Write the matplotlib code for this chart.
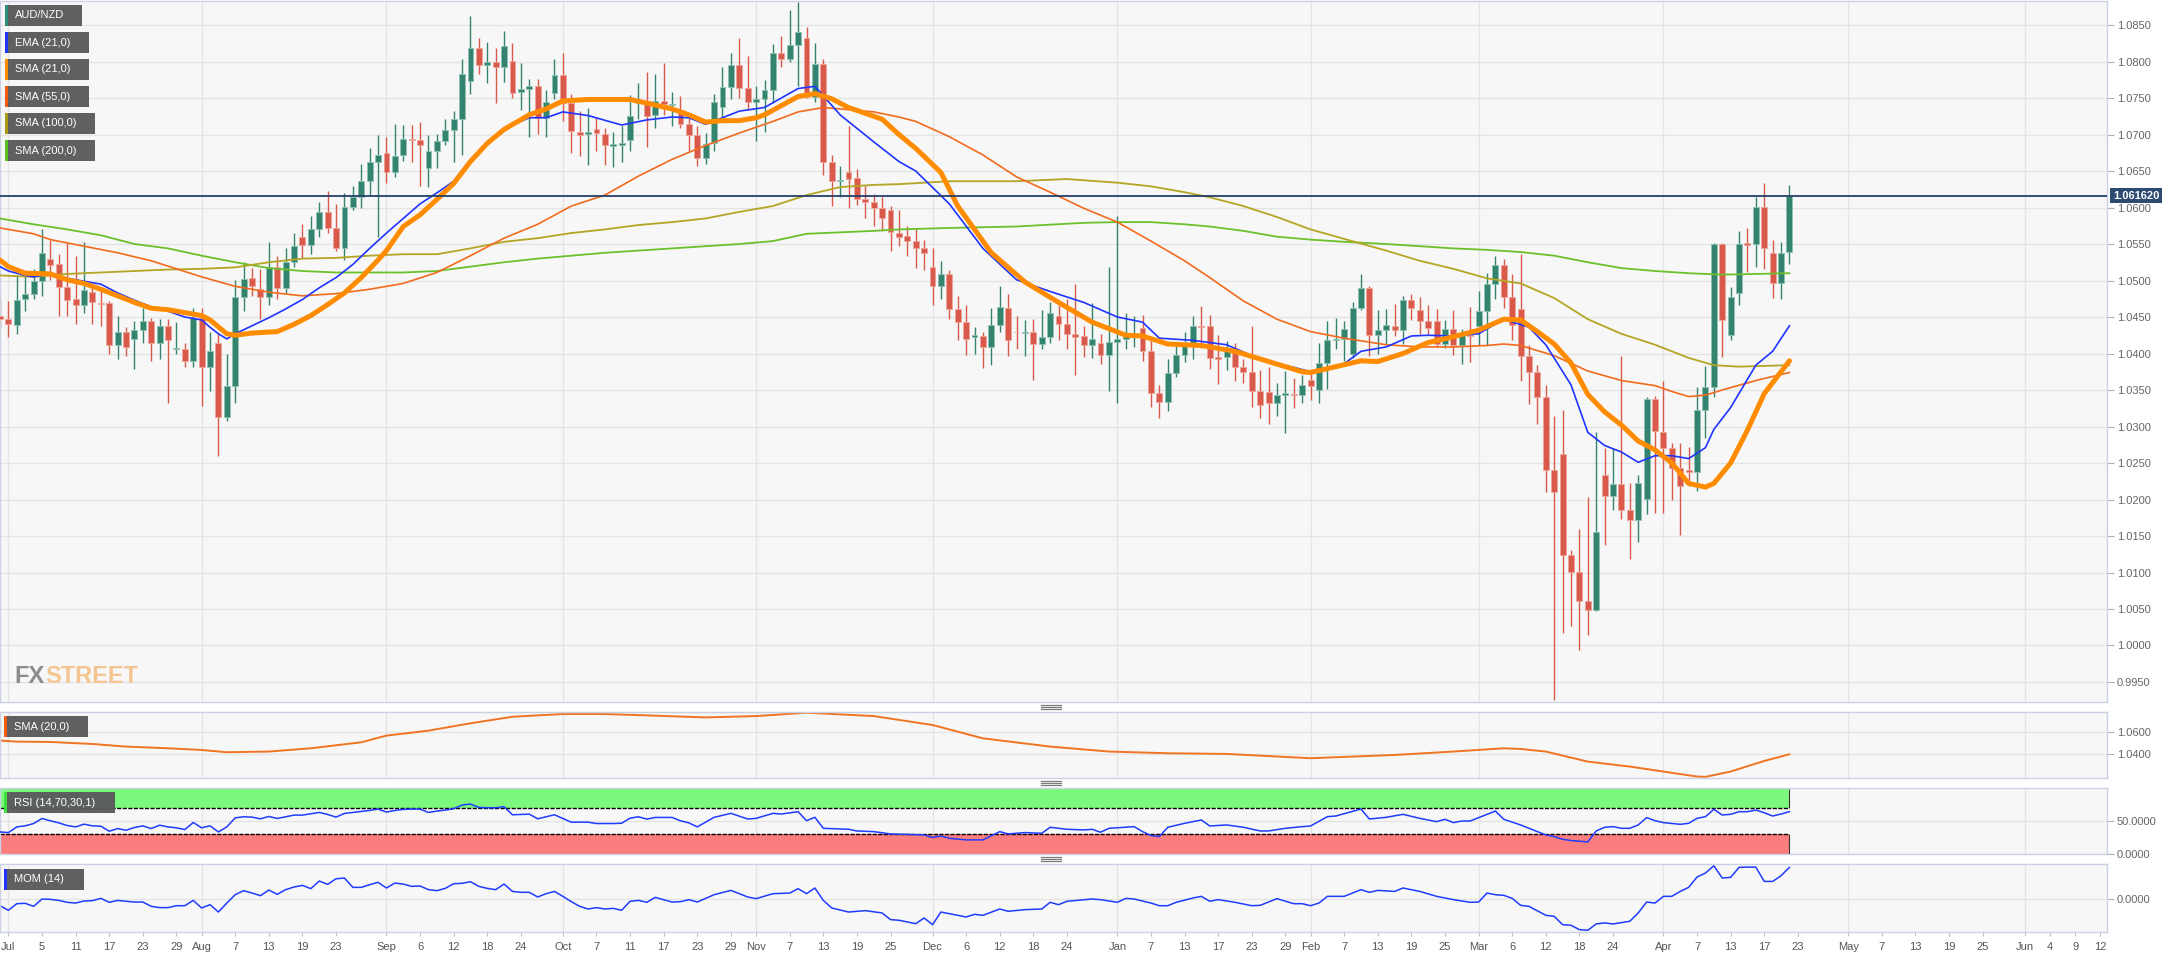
import matplotlib
matplotlib.use('Agg')
import matplotlib.pyplot as plt
import numpy as np
import pandas as pd
from matplotlib.patches import Rectangle
from matplotlib.lines import Line2D

plt.rcParams['font.family'] = ['Liberation Sans', 'DejaVu Sans']

# ---- daily AUD/NZD candles, first bar is 2019-06-28, last is 2020-04-22
opens = [
    1.0452, 1.0447, 1.0439, 1.0474, 1.0482, 1.0499, 1.0530, 1.0522, 1.0491, 1.0474,
    1.0466, 1.0484, 1.0469, 1.0469, 1.0412, 1.0430, 1.0420, 1.0432, 1.0444, 1.0415,
    1.0438, 1.0406, 1.0406, 1.0390, 1.0449, 1.0381, 1.0414, 1.0313, 1.0356, 1.0478,
    1.0503, 1.0489, 1.0478, 1.0519, 1.0490, 1.0525, 1.0560, 1.0548, 1.0570, 1.0594,
    1.0572, 1.0545, 1.0601, 1.0614, 1.0636, 1.0663, 1.0675, 1.0648, 1.0672, 1.0694,
    1.0693, 1.0654, 1.0678, 1.0691, 1.0706, 1.0721, 1.0773, 1.0819, 1.0795, 1.0800,
    1.0792, 1.0801, 1.0758, 1.0763, 1.0767, 1.0723, 1.0757, 1.0781, 1.0743, 1.0704,
    1.0701, 1.0708, 1.0701, 1.0684, 1.0686, 1.0692, 1.0743, 1.0746, 1.0727, 1.0746,
    1.0741, 1.0733, 1.0715, 1.0700, 1.0668, 1.0688, 1.0738, 1.0765, 1.0795, 1.0764,
    1.0745, 1.0748, 1.0761, 1.0811, 1.0804, 1.0822, 1.0832, 1.0752, 1.0797, 1.0663,
    1.0636, 1.0648, 1.0640, 1.0611, 1.0607, 1.0599, 1.0596, 1.0565, 1.0561, 1.0554,
    1.0544, 1.0519, 1.0493, 1.0509, 1.0461, 1.0443, 1.0423, 1.0424, 1.0409, 1.0439,
    1.0462, 1.0430, 1.0428, 1.0429, 1.0413, 1.0423, 1.0452, 1.0441, 1.0427, 1.0424,
    1.0411, 1.0415, 1.0398, 1.0416, 1.0420, 1.0425, 1.0435, 1.0403, 1.0346, 1.0334,
    1.0373, 1.0398, 1.0412, 1.0438, 1.0437, 1.0395, 1.0395, 1.0406, 1.0382, 1.0375,
    1.0349, 1.0347, 1.0332, 1.0343, 1.0345, 1.0343, 1.0364, 1.0350, 1.0387, 1.0418,
    1.0420, 1.0400, 1.0462, 1.0490, 1.0425, 1.0432, 1.0438, 1.0432, 1.0473, 1.0460,
    1.0445, 1.0445, 1.0413, 1.0433, 1.0411, 1.0426, 1.0438, 1.0458, 1.0495, 1.0521,
    1.0478, 1.0461, 1.0396, 1.0374, 1.0341, 1.0240, 1.0263, 1.0124, 1.0101, 1.0061,
    1.0049, 1.0233, 1.0205, 1.0221, 1.0186, 1.0172, 1.0201, 1.0337, 1.0292, 1.0271,
    1.0243, 1.0241, 1.0237, 1.0323, 1.0354, 1.0550, 1.0425, 1.0483, 1.0551, 1.0550,
    1.0601, 1.0538, 1.0497, 1.0539]
highs = [
    1.0473, 1.0472, 1.0507, 1.0507, 1.0516, 1.0571, 1.0556, 1.0536, 1.0553, 1.0533,
    1.0553, 1.0492, 1.0485, 1.0472, 1.0452, 1.0436, 1.0444, 1.0463, 1.0449, 1.0447,
    1.0447, 1.0443, 1.0415, 1.0463, 1.0463, 1.0430, 1.0428, 1.0400, 1.0501, 1.0526,
    1.0517, 1.0516, 1.0553, 1.0533, 1.0544, 1.0565, 1.0577, 1.0588, 1.0608, 1.0623,
    1.0605, 1.0620, 1.0629, 1.0660, 1.0682, 1.0700, 1.0697, 1.0715, 1.0713, 1.0713,
    1.0717, 1.0700, 1.0701, 1.0721, 1.0732, 1.0804, 1.0862, 1.0832, 1.0827, 1.0818,
    1.0842, 1.0825, 1.0798, 1.0776, 1.0776, 1.0761, 1.0804, 1.0811, 1.0755, 1.0732,
    1.0737, 1.0723, 1.0709, 1.0703, 1.0712, 1.0754, 1.0770, 1.0786, 1.0783, 1.0798,
    1.0758, 1.0753, 1.0727, 1.0711, 1.0702, 1.0755, 1.0793, 1.0811, 1.0832, 1.0807,
    1.0767, 1.0775, 1.0824, 1.0835, 1.0871, 1.0881, 1.0847, 1.0825, 1.0803, 1.0672,
    1.0657, 1.0712, 1.0653, 1.0631, 1.0619, 1.0614, 1.0602, 1.0596, 1.0574, 1.0571,
    1.0556, 1.0545, 1.0527, 1.0514, 1.0479, 1.0467, 1.0436, 1.0430, 1.0462, 1.0493,
    1.0481, 1.0452, 1.0446, 1.0447, 1.0459, 1.0470, 1.0467, 1.0475, 1.0495, 1.0437,
    1.0469, 1.0427, 1.0519, 1.0588, 1.0456, 1.0452, 1.0453, 1.0421, 1.0357, 1.0392,
    1.0413, 1.0430, 1.0452, 1.0465, 1.0453, 1.0426, 1.0417, 1.0415, 1.0392, 1.0438,
    1.0378, 1.0381, 1.0360, 1.0376, 1.0366, 1.0370, 1.0376, 1.0414, 1.0444, 1.0449,
    1.0444, 1.0470, 1.0509, 1.0493, 1.0460, 1.0461, 1.0468, 1.0479, 1.0482, 1.0478,
    1.0467, 1.0461, 1.0446, 1.0460, 1.0434, 1.0464, 1.0485, 1.0510, 1.0534, 1.0530,
    1.0509, 1.0536, 1.0412, 1.0384, 1.0357, 1.0314, 1.0323, 1.0131, 1.0159, 1.0203,
    1.0292, 1.0271, 1.0271, 1.0397, 1.0223, 1.0234, 1.0340, 1.0342, 1.0362, 1.0278,
    1.0277, 1.0272, 1.0354, 1.0383, 1.0552, 1.0551, 1.0491, 1.0568, 1.0572, 1.0614,
    1.0634, 1.0556, 1.0553, 1.0631]
lows = [
    1.0433, 1.0423, 1.0427, 1.0458, 1.0474, 1.0479, 1.0501, 1.0452, 1.0452, 1.0440,
    1.0456, 1.0441, 1.0438, 1.0400, 1.0393, 1.0397, 1.0379, 1.0415, 1.0390, 1.0393,
    1.0332, 1.0400, 1.0382, 1.0381, 1.0328, 1.0348, 1.0259, 1.0307, 1.0332, 1.0458,
    1.0479, 1.0447, 1.0467, 1.0474, 1.0482, 1.0519, 1.0531, 1.0537, 1.0560, 1.0565,
    1.0541, 1.0528, 1.0596, 1.0599, 1.0617, 1.0559, 1.0634, 1.0642, 1.0664, 1.0662,
    1.0629, 1.0628, 1.0654, 1.0685, 1.0663, 1.0672, 1.0755, 1.0783, 1.0770, 1.0743,
    1.0772, 1.0750, 1.0734, 1.0697, 1.0701, 1.0697, 1.0748, 1.0718, 1.0675, 1.0670,
    1.0658, 1.0678, 1.0658, 1.0656, 1.0663, 1.0678, 1.0721, 1.0683, 1.0709, 1.0727,
    1.0711, 1.0709, 1.0678, 1.0657, 1.0660, 1.0678, 1.0723, 1.0749, 1.0750, 1.0734,
    1.0691, 1.0703, 1.0743, 1.0793, 1.0799, 1.0767, 1.0750, 1.0744, 1.0645, 1.0602,
    1.0615, 1.0599, 1.0603, 1.0586, 1.0574, 1.0568, 1.0541, 1.0547, 1.0534, 1.0517,
    1.0514, 1.0467, 1.0474, 1.0447, 1.0419, 1.0398, 1.0400, 1.0380, 1.0384, 1.0430,
    1.0397, 1.0406, 1.0397, 1.0364, 1.0406, 1.0415, 1.0418, 1.0406, 1.0370, 1.0395,
    1.0394, 1.0386, 1.0349, 1.0332, 1.0406, 1.0409, 1.0390, 1.0327, 1.0311, 1.0321,
    1.0368, 1.0389, 1.0393, 1.0407, 1.0379, 1.0358, 1.0378, 1.0363, 1.0360, 1.0327,
    1.0311, 1.0303, 1.0314, 1.0291, 1.0325, 1.0332, 1.0336, 1.0332, 1.0352, 1.0406,
    1.0390, 1.0394, 1.0460, 1.0397, 1.0400, 1.0413, 1.0424, 1.0413, 1.0446, 1.0427,
    1.0427, 1.0409, 1.0407, 1.0398, 1.0386, 1.0389, 1.0411, 1.0411, 1.0474, 1.0462,
    1.0418, 1.0362, 1.0331, 1.0303, 1.0210, 0.9925, 1.0017, 1.0027, 0.9994, 1.0015,
    1.0047, 1.0137, 1.0185, 1.0173, 1.0119, 1.0142, 1.0180, 1.0182, 1.0182, 1.0200,
    1.0151, 1.0219, 1.0211, 1.0284, 1.0341, 1.0395, 1.0419, 1.0467, 1.0511, 1.0519,
    1.0516, 1.0476, 1.0474, 1.0522]
closes = [
    1.0447, 1.0441, 1.0473, 1.0482, 1.0499, 1.0538, 1.0521, 1.0491, 1.0473, 1.0466,
    1.0487, 1.0470, 1.0468, 1.0412, 1.0430, 1.0409, 1.0432, 1.0444, 1.0415, 1.0438,
    1.0418, 1.0408, 1.0390, 1.0449, 1.0381, 1.0403, 1.0313, 1.0356, 1.0478, 1.0502,
    1.0493, 1.0478, 1.0519, 1.0490, 1.0525, 1.0547, 1.0548, 1.0570, 1.0594, 1.0572,
    1.0545, 1.0601, 1.0614, 1.0636, 1.0663, 1.0672, 1.0648, 1.0671, 1.0694, 1.0693,
    1.0686, 1.0678, 1.0691, 1.0706, 1.0721, 1.0783, 1.0819, 1.0795, 1.0800, 1.0792,
    1.0821, 1.0757, 1.0762, 1.0767, 1.0723, 1.0744, 1.0781, 1.0743, 1.0705, 1.0700,
    1.0703, 1.0702, 1.0686, 1.0687, 1.0689, 1.0726, 1.0745, 1.0726, 1.0746, 1.0742,
    1.0742, 1.0715, 1.0700, 1.0668, 1.0687, 1.0744, 1.0765, 1.0795, 1.0764, 1.0744,
    1.0748, 1.0761, 1.0811, 1.0804, 1.0822, 1.0840, 1.0752, 1.0797, 1.0663, 1.0637,
    1.0638, 1.0639, 1.0611, 1.0607, 1.0599, 1.0585, 1.0566, 1.0560, 1.0554, 1.0544,
    1.0538, 1.0493, 1.0509, 1.0461, 1.0443, 1.0420, 1.0425, 1.0409, 1.0439, 1.0464,
    1.0419, 1.0429, 1.0430, 1.0413, 1.0423, 1.0456, 1.0441, 1.0427, 1.0423, 1.0411,
    1.0420, 1.0398, 1.0416, 1.0420, 1.0425, 1.0427, 1.0403, 1.0346, 1.0334, 1.0373,
    1.0398, 1.0412, 1.0438, 1.0436, 1.0394, 1.0393, 1.0404, 1.0382, 1.0375, 1.0348,
    1.0329, 1.0332, 1.0343, 1.0346, 1.0343, 1.0357, 1.0356, 1.0387, 1.0418, 1.0420,
    1.0433, 1.0462, 1.0490, 1.0425, 1.0432, 1.0439, 1.0432, 1.0473, 1.0462, 1.0444,
    1.0435, 1.0413, 1.0433, 1.0411, 1.0425, 1.0424, 1.0458, 1.0495, 1.0521, 1.0478,
    1.0439, 1.0397, 1.0374, 1.0341, 1.0240, 1.0210, 1.0124, 1.0101, 1.0061, 1.0049,
    1.0156, 1.0205, 1.0221, 1.0186, 1.0172, 1.0223, 1.0337, 1.0294, 1.0271, 1.0243,
    1.0219, 1.0237, 1.0323, 1.0354, 1.0550, 1.0446, 1.0477, 1.0550, 1.0549, 1.0601,
    1.0544, 1.0497, 1.0538, 1.06162]
last_price = 1.06162

# ---- moving averages (bar number, value)
ema21_bar = [0, 1, 3, 4, 6, 8, 10, 12, 14, 16, 18, 20, 22, 24, 25, 26, 27, 28, 30, 32, 34, 36, 38, 40,
             42, 44, 46, 48, 50, 52, 54, 56, 60, 63, 65, 67, 70, 74, 77, 80, 82, 84, 86, 88, 91, 95,
             97, 100, 104, 107, 109, 113, 117, 121, 125, 129, 133, 136, 138, 142, 146, 150, 154, 156,
             160, 162, 165, 168, 170, 173, 176, 179, 182, 184, 187, 189, 191, 193, 195, 197, 199, 201,
             203, 204, 206, 209, 211, 213]
ema21 = [1.0519, 1.0513, 1.0507, 1.0505, 1.0509, 1.0503, 1.0499, 1.0495, 1.0483, 1.0473, 1.0464, 1.0458,
         1.0450, 1.0446, 1.0436, 1.0427, 1.0420, 1.0427, 1.0438, 1.0449, 1.0461, 1.0474, 1.0490, 1.0504,
         1.0522, 1.0544, 1.0565, 1.0585, 1.0605, 1.0620, 1.0636, 1.0666, 1.0708, 1.0723, 1.0723, 1.0731,
         1.0726, 1.0713, 1.0720, 1.0724, 1.0723, 1.0714, 1.0723, 1.0732, 1.0737, 1.0763, 1.0766, 1.0727,
         1.0690, 1.0663, 1.0650, 1.0605, 1.0544, 1.0501, 1.0485, 1.0470, 1.0450, 1.0443, 1.0421, 1.0418,
         1.0412, 1.0392, 1.0381, 1.0375, 1.0386, 1.0403, 1.0409, 1.0424, 1.0425, 1.0424, 1.0427, 1.0447,
         1.0436, 1.0412, 1.0357, 1.0292, 1.0274, 1.0265, 1.0251, 1.0260, 1.0260, 1.0256, 1.0271, 1.0296,
         1.0326, 1.0384, 1.0403, 1.0438]

sma21_bar = [0, 1, 3, 6, 8, 10, 12, 14, 16, 18, 20, 22, 24, 25, 27, 28, 30, 33, 35, 37, 39, 41, 43, 45,
             46, 48, 50, 52, 54, 56, 58, 60, 63, 65, 67, 70, 73, 75, 77, 80, 82, 84, 86, 88, 90, 91, 95,
             97, 99, 101, 103, 105, 107, 109, 112, 114, 118, 122, 126, 130, 134, 136, 139, 143, 147, 151,
             155, 156, 159, 162, 164, 167, 170, 173, 176, 179, 181, 183, 185, 187, 189, 191, 193, 195,
             197, 199, 201, 203, 204, 206, 208, 210, 213]
sma21 = [1.0528, 1.0519, 1.0510, 1.0509, 1.0501, 1.0496, 1.0488, 1.0479, 1.0470, 1.0462, 1.0460, 1.0456,
         1.0452, 1.0446, 1.0427, 1.0425, 1.0428, 1.0430, 1.0440, 1.0452, 1.0467, 1.0483, 1.0504, 1.0528,
         1.0541, 1.0574, 1.0590, 1.0611, 1.0633, 1.0663, 1.0688, 1.0707, 1.0727, 1.0735, 1.0746, 1.0748,
         1.0748, 1.0748, 1.0743, 1.0735, 1.0727, 1.0717, 1.0719, 1.0719, 1.0723, 1.0727, 1.0752, 1.0756,
         1.0749, 1.0737, 1.0729, 1.0721, 1.0700, 1.0681, 1.0648, 1.0602, 1.0538, 1.0498, 1.0470, 1.0443,
         1.0425, 1.0424, 1.0413, 1.0411, 1.0403, 1.0389, 1.0375, 1.0374, 1.0382, 1.0390, 1.0389, 1.0400,
         1.0415, 1.0423, 1.0432, 1.0447, 1.0446, 1.0430, 1.0413, 1.0387, 1.0344, 1.0320, 1.0302, 1.0280,
         1.0268, 1.0250, 1.0222, 1.0217, 1.0222, 1.0250, 1.0295, 1.0345, 1.0390]

sma55_bar = [0, 4, 6, 10, 14, 18, 21, 24, 28, 32, 36, 40, 44, 48, 52, 56, 60, 64, 68, 72, 76, 80, 84, 88,
             92, 95, 98, 100, 104, 107, 109, 113, 117, 121, 125, 129, 133, 137, 141, 144, 148, 152, 156,
             160, 165, 169, 173, 177, 179, 181, 185, 189, 193, 197, 199, 201, 203, 205, 209, 213]
sma55 = [1.0572, 1.0564, 1.0556, 1.0547, 1.0538, 1.0527, 1.0516, 1.0505, 1.0492, 1.0484, 1.0479, 1.0482,
         1.0488, 1.0496, 1.0511, 1.0534, 1.0558, 1.0577, 1.0602, 1.0617, 1.0643, 1.0666, 1.0685, 1.0702,
         1.0718, 1.0731, 1.0737, 1.0735, 1.0731, 1.0724, 1.0718, 1.0697, 1.0672, 1.0642, 1.0621, 1.0599,
         1.0580, 1.0554, 1.0527, 1.0504, 1.0472, 1.0447, 1.0430, 1.0421, 1.0412, 1.0409, 1.0409, 1.0411,
         1.0413, 1.0411, 1.0397, 1.0376, 1.0363, 1.0356, 1.0348, 1.0341, 1.0343, 1.0350, 1.0363, 1.0374]

sma100_bar = [0, 4, 8, 12, 16, 20, 24, 28, 32, 36, 40, 44, 48, 52, 56, 60, 64, 68, 72, 76, 80, 84, 88,
              92, 96, 100, 104, 107, 113, 121, 127, 133, 137, 141, 144, 148, 152, 156, 160, 165, 169,
              173, 177, 181, 185, 189, 193, 197, 201, 204, 207, 213]
sma100 = [1.0507, 1.0505, 1.0509, 1.0511, 1.0513, 1.0515, 1.0516, 1.0518, 1.0525, 1.0530, 1.0531, 1.0534,
          1.0536, 1.0536, 1.0544, 1.0553, 1.0558, 1.0565, 1.0570, 1.0576, 1.0580, 1.0585, 1.0594, 1.0602,
          1.0617, 1.0628, 1.0631, 1.0632, 1.0636, 1.0636, 1.0639, 1.0634, 1.0629, 1.0621, 1.0614, 1.0602,
          1.0587, 1.0570, 1.0557, 1.0541, 1.0527, 1.0516, 1.0503, 1.0496, 1.0476, 1.0447, 1.0427, 1.0412,
          1.0394, 1.0384, 1.0382, 1.0384]

sma200_bar = [0, 4, 8, 12, 16, 20, 24, 28, 32, 36, 40, 44, 48, 52, 56, 60, 64, 68, 72, 76, 80, 84, 88,
              92, 96, 100, 104, 107, 113, 121, 129, 133, 137, 141, 144, 148, 152, 156, 160, 165, 169,
              173, 177, 181, 185, 189, 193, 197, 201, 205, 209, 213]
sma200 = [1.0585, 1.0577, 1.0570, 1.0562, 1.0550, 1.0544, 1.0534, 1.0525, 1.0517, 1.0513, 1.0511, 1.0511,
          1.0511, 1.0513, 1.0519, 1.0525, 1.0530, 1.0534, 1.0538, 1.0541, 1.0544, 1.0547, 1.0550, 1.0554,
          1.0564, 1.0566, 1.0568, 1.0570, 1.0572, 1.0574, 1.0579, 1.0580, 1.0580, 1.0577, 1.0574, 1.0568,
          1.0560, 1.0556, 1.0553, 1.0550, 1.0547, 1.0544, 1.0542, 1.0539, 1.0534, 1.0525, 1.0517, 1.0513,
          1.0510, 1.0508, 1.0509, 1.0510]

# ---- lower panels
sma20_bar = [0, 2, 6, 11, 15, 20, 24, 27, 32, 37, 43, 46, 51, 56, 61, 67, 72, 77, 84, 90, 96, 104, 111,
             117, 125, 132, 139, 146, 156, 166, 173, 179, 181, 184, 189, 194, 198, 202, 203, 206, 210, 213]
sma20 = [1.0521, 1.0512, 1.0509, 1.0491, 1.0468, 1.0453, 1.0438, 1.0418, 1.0424, 1.0453, 1.0506, 1.0565,
         1.0609, 1.0674, 1.0732, 1.0756, 1.0756, 1.0744, 1.0726, 1.0738, 1.0768, 1.0738, 1.0659, 1.0541,
         1.0468, 1.0424, 1.0409, 1.0403, 1.0365, 1.0394, 1.0424, 1.0453, 1.0447, 1.0424, 1.0335, 1.0291,
         1.0247, 1.0203, 1.0200, 1.0247, 1.0341, 1.0400]

rsi_bar = list(range(0, 84)) + [
    85, 87, 89, 90, 92, 93, 95, 96, 97, 98, 101, 102, 104, 106, 110, 111, 112, 113, 115, 117, 119, 120,
    122, 124, 125, 127, 129, 130, 131, 132, 135, 136, 137, 138, 139, 141, 143, 144, 146, 148, 150, 151,
    153, 155, 156, 158, 159, 162, 163, 165, 167, 169, 171, 172, 173, 174, 175, 178, 179, 181, 182, 184,
    185, 186, 187, 189, 190, 191, 192, 193, 194, 195, 196, 197, 198, 200, 201, 202, 203, 204, 205, 206,
    207, 208, 209, 210, 211, 212, 213]
rsi = [
    33.6, 32.6, 41.4, 43.0, 46.6, 54.4, 50.8, 47.6, 43.5, 41.4, 45.6, 43.0, 42.5, 34.7, 38.8, 36.2, 40.4,
    43.0, 38.8, 44.0, 41.4, 39.9, 37.3, 48.2, 39.9, 43.0, 33.6, 41.4, 55.4, 57.0, 56.5, 53.9, 57.5, 54.4,
    57.0, 59.6, 59.6, 61.7, 63.7, 60.6, 56.5, 62.2, 63.7, 65.3, 66.8, 68.9, 64.3, 66.8, 68.4, 68.9, 68.9,
    63.7, 65.8, 67.4, 69.4, 75.2, 76.7, 71.5, 71.0, 71.0, 72.6, 60.1, 60.6, 61.1, 53.9, 57.0, 60.1, 54.4,
    48.7, 48.7, 48.7, 46.6, 46.6, 46.6, 47.1, 54.9, 57.0, 53.4, 56.0, 56.0, 56.0, 50.8, 47.6, 41.4,
    56.2, 62.3, 53.6, 54.6, 62.3, 61.3, 64.9, 51.0, 56.2, 39.2, 37.7, 35.1, 34.1, 30.5, 29.0, 24.9, 27.4,
    23.8, 21.3, 21.3, 34.1, 30.5, 32.6, 31.5, 40.8, 37.7, 36.7, 37.7, 33.1, 39.2, 41.8, 34.1, 28.0, 26.4,
    40.8, 46.9, 52.1, 42.8, 44.4, 40.8, 35.1, 35.1, 39.2, 41.8, 42.8, 57.2, 58.2, 69.0, 53.6, 56.2, 60.8,
    54.6, 49.5, 53.1, 48.0, 50.5, 50.5, 65.9, 53.1, 44.4, 39.2, 29.0, 26.4, 22.3, 20.3, 18.2, 35.1, 40.8,
    41.8, 39.2, 39.2, 44.4, 55.7, 51.0, 48.0, 45.4, 46.9, 54.6, 57.2, 68.5, 59.8, 60.8, 64.9, 64.9, 67.4,
    63.3, 58.2, 61.3, 64.9]

mom_bar = list(range(0, 84)) + [
    85, 87, 89, 90, 92, 94, 95, 96, 97, 98, 99, 101, 103, 105, 106, 107, 109, 110, 111, 112, 115, 116, 117,
    119, 120, 122, 124, 125, 126, 127, 130, 131, 133, 134, 135, 137, 138, 139, 140, 142, 143, 144, 145,
    147, 149, 150, 152, 154, 155, 156, 157, 158, 160, 162, 163, 164, 166, 167, 169, 171, 173, 175, 176,
    177, 178, 179, 180, 181, 182, 184, 185, 186, 187, 188, 189, 190, 191, 192, 194, 195, 196, 197, 198,
    199, 200, 201, 202, 203, 204, 205, 206, 207, 208, 209, 210, 211, 212, 213]
mom = [
    -0.0073, -0.0123, -0.0051, -0.0047, -0.0080, 0.0000, -0.0004, -0.0015, -0.0036, -0.0044, -0.0022,
    -0.0018, 0.0007, -0.0036, -0.0015, -0.0025, -0.0033, -0.0033, -0.0080, -0.0094, -0.0094, -0.0073,
    -0.0073, -0.0015, -0.0098, -0.0062, -0.0142, -0.0044, 0.0047, 0.0091, 0.0065, 0.0036, 0.0098, 0.0051,
    0.0102, 0.0131, 0.0149, 0.0113, 0.0196, 0.0160, 0.0221, 0.0229, 0.0127, 0.0127, 0.0156, 0.0182,
    0.0120, 0.0174, 0.0163, 0.0138, 0.0142, 0.0102, 0.0091, 0.0116, 0.0167, 0.0171, 0.0189, 0.0138,
    0.0116, 0.0102, 0.0163, 0.0083, 0.0073, 0.0073, 0.0022, 0.0058, 0.0083, 0.0029, -0.0029, -0.0080,
    -0.0109, -0.0094, -0.0109, -0.0102, -0.0123, -0.0025, -0.0015, -0.0036, 0.0018, -0.0007, -0.0033,
    -0.0029, -0.0007, -0.0033,
    0.0047, 0.0094, 0.0022, 0.0004, 0.0058, 0.0065, 0.0113, 0.0058, 0.0120, -0.0015, -0.0098, -0.0142,
    -0.0127, -0.0152, -0.0225, -0.0232, -0.0269, -0.0207, -0.0280, -0.0142, -0.0196, -0.0167, -0.0178,
    -0.0109, -0.0134, -0.0116, -0.0109, -0.0036, -0.0062, -0.0025, 0.0000, -0.0007, -0.0036, 0.0007,
    0.0000, -0.0044, -0.0073, -0.0073, -0.0036, 0.0011, 0.0029, -0.0025, -0.0007, -0.0036, -0.0073,
    -0.0069, 0.0004, -0.0051, -0.0051, -0.0073, -0.0044, 0.0029, 0.0029, 0.0102, 0.0073, 0.0094, 0.0083,
    0.0120, 0.0083, 0.0029, -0.0007, -0.0036, -0.0033, 0.0065, 0.0047, 0.0040, 0.0007, -0.0069, -0.0080,
    -0.0178, -0.0189, -0.0280, -0.0287, -0.0334, -0.0341, -0.0272, -0.0261, -0.0272, -0.0243, -0.0152,
    -0.0033, -0.0044, 0.0029, 0.0029, 0.0083, 0.0127, 0.0240, 0.0283, 0.0363, 0.0229, 0.0236, 0.0345,
    0.0348, 0.0348, 0.0192, 0.0192, 0.0254, 0.0345]

# ---- date axis
days = pd.bdate_range('2019-06-28', '2020-06-30')
month_starts = ['2019-07-01', '2019-08-01', '2019-09-02', '2019-10-01', '2019-11-01', '2019-12-02',
                '2020-01-01', '2020-02-03', '2020-03-02', '2020-04-01', '2020-05-01', '2020-06-01']
tick_dates = ['2019-07-01', '2019-07-05', '2019-07-11', '2019-07-17', '2019-07-23', '2019-07-29',
              '2019-08-01', '2019-08-07', '2019-08-13', '2019-08-19', '2019-08-23', '2019-09-02',
              '2019-09-06', '2019-09-12', '2019-09-18', '2019-09-24', '2019-10-01', '2019-10-07',
              '2019-10-11', '2019-10-17', '2019-10-23', '2019-10-29', '2019-11-01', '2019-11-07',
              '2019-11-13', '2019-11-19', '2019-11-25', '2019-12-02', '2019-12-06', '2019-12-12',
              '2019-12-18', '2019-12-24', '2020-01-01', '2020-01-07', '2020-01-13', '2020-01-17',
              '2020-01-23', '2020-01-29', '2020-02-03', '2020-02-07', '2020-02-13', '2020-02-19',
              '2020-02-25', '2020-03-02', '2020-03-06', '2020-03-12', '2020-03-18', '2020-03-24',
              '2020-04-01', '2020-04-07', '2020-04-13', '2020-04-17', '2020-04-23', '2020-05-01',
              '2020-05-07', '2020-05-13', '2020-05-19', '2020-05-25', '2020-06-01', '2020-06-04',
              '2020-06-09', '2020-06-12']

def bar_of(d):
    return days.get_loc(pd.Timestamp(d))

month_pos = [bar_of(d) for d in month_starts]
tick_pos = [bar_of(d) for d in tick_dates]
tick_lab = [pd.Timestamp(d).strftime('%b') if d in month_starts else str(pd.Timestamp(d).day)
            for d in tick_dates]

# ---- figure
W, H = 2183, 958
fig = plt.figure(figsize=(W / 100, H / 100), dpi=100)
fig.patch.set_facecolor('white')

def px_axes(x0, y0, x1, y1):
    return fig.add_axes([x0 / W, 1 - y1 / H, (x1 - x0) / W, (y1 - y0) / H])

ax = px_axes(0, 1, 2107, 702)
ax_sma = px_axes(0, 712, 2107, 778)
ax_rsi = px_axes(0, 788, 2107, 854)
ax_mom = px_axes(0, 864, 2107, 932)
panels = [ax, ax_sma, ax_rsi, ax_mom]

GRID = '#e4e4e4'
for a in panels:
    a.set_facecolor('#f7f7f7')
    a.set_xlim(0, 250.8)
    for s in a.spines.values():
        s.set_color('#c9d1e3')
        s.set_linewidth(1)
    for m in month_pos:
        a.axvline(m, color=GRID, lw=1, zorder=0)
    a.yaxis.tick_right()
    a.tick_params(axis='y', length=5, width=0.8, color='#b0b0b0', labelcolor='#666666',
                  labelsize=8, pad=2)
    a.tick_params(axis='x', bottom=False, labelbottom=False)
    a.yaxis.grid(True, color=GRID, lw=1, zorder=0)
    a.set_axisbelow(True)

# main candles
x = np.arange(len(closes))
o = np.array(opens); h = np.array(highs); l = np.array(lows); c = np.array(closes)
up = c >= o
GREEN, RED = '#33836f', '#d95a4b'
cols = np.where(up, GREEN, RED)
edge = np.where(up, '#8fc2b3', '#eda59c')
ax.vlines(x, l, h, colors=cols, lw=1, zorder=2)
body_lo = np.minimum(o, c)
body_h = np.maximum(np.abs(c - o), 0.00008)
ax.bar(x, body_h, bottom=body_lo, width=0.7, color=cols, edgecolor=edge, lw=0.6, zorder=3)

ax.plot(sma200_bar, sma200, color='#6cc02a', lw=1.3, zorder=4)
ax.plot(sma100_bar, sma100, color='#b4a524', lw=1.3, zorder=4)
ax.plot(sma55_bar, sma55, color='#f26b1d', lw=1.2, zorder=4)
ax.plot(ema21_bar, ema21, color='#1f35ff', lw=1.2, zorder=5)
ax.plot(sma21_bar, sma21, color='#ff8c00', lw=3.6, zorder=5, solid_capstyle='round')

ax.set_ylim(0.99226, 1.08829)
yt = np.arange(0.995, 1.0851, 0.005)
ax.set_yticks(yt)
ax.set_yticklabels(['%.4f' % v for v in yt])

ax.axhline(last_price, color='#24406a', lw=1.3, zorder=6)
ax.text(1.0028, last_price, '%.6f' % last_price, transform=ax.get_yaxis_transform(),
        ha='left', va='center', color='white', fontsize=8, fontweight='bold', clip_on=False,
        bbox=dict(boxstyle='square,pad=0.25', fc='#2c4a72', ec='none'), zorder=10)

# watermark: STREET is placed right after FX so the two never overlap
fx = ax.text(14 / 2107, 0.027, 'FX', transform=ax.transAxes, fontsize=17, fontweight='bold',
             color='#8c8c8c', ha='left', va='baseline')
ax.annotate('STREET', xy=(1, 0), xycoords=fx, xytext=(0.5, 0), textcoords='offset points',
            fontsize=17, fontweight='bold', color='#f4c590', ha='left', va='bottom')

# SMA(20) panel
ax_sma.plot(sma20_bar, sma20, color='#f07422', lw=1.4)
ax_sma.set_ylim(1.0190, 1.0774)
ax_sma.set_yticks([1.04, 1.06])
ax_sma.set_yticklabels(['1.0400', '1.0600'])

# RSI panel
last = len(closes) - 1
ax_rsi.fill_between([0, last], 70, 100, color='#7cf87c', lw=0, zorder=1)
ax_rsi.fill_between([0, last], 0, 30, color='#fb7d7d', lw=0, zorder=1)
ax_rsi.hlines([70, 30], 0, last, colors='black', lw=1, linestyles=(0, (3, 1)), zorder=2)
ax_rsi.vlines([last, last], [70, 0], [100, 30], colors='#333333', lw=0.8, zorder=2)
ax_rsi.plot(rsi_bar, rsi, color='#1f3cff', lw=1.1, zorder=3)
ax_rsi.set_ylim(-0.5, 101.5)
ax_rsi.set_yticks([0, 50])
ax_rsi.set_yticklabels(['0.0000', '50.0000'])

# MOM panel
ax_mom.plot(mom_bar, mom, color='#1f3cff', lw=1.1)
ax_mom.set_ylim(-0.0360, 0.0382)
ax_mom.set_yticks([0])
ax_mom.set_yticklabels(['0.0000'])
ax_mom.set_xticks(tick_pos)
ax_mom.set_xticklabels(tick_lab)
ax_mom.tick_params(axis='x', bottom=True, labelbottom=True, length=3, color='#c0c0c0',
                   labelcolor='#555555', labelsize=8, pad=4)

# indicator tags
def tag(x0, y0, w, h, strip, text):
    fig.add_artist(Rectangle((x0 / W, 1 - (y0 + h) / H), w / W, h / H, transform=fig.transFigure,
                             fc='#5b5b5b', ec='none', alpha=0.97, zorder=20))
    fig.add_artist(Rectangle((x0 / W, 1 - (y0 + h) / H), 2.5 / W, h / H, transform=fig.transFigure,
                             fc=strip, ec='none', zorder=21))
    fig.text((x0 + 10) / W, 1 - (y0 + h / 2) / H, text, color='white', fontsize=8,
             ha='left', va='center', zorder=22)

tag(5, 5, 77, 21, '#2e8b78', 'AUD/NZD')
tag(5, 32, 84, 21, '#1f35ff', 'EMA (21,0)')
tag(5, 59, 84, 21, '#ff8c00', 'SMA (21,0)')
tag(5, 86, 84, 21, '#f25a10', 'SMA (55,0)')
tag(5, 113, 90, 21, '#a89a18', 'SMA (100,0)')
tag(5, 140, 90, 21, '#58c020', 'SMA (200,0)')
tag(4, 716, 84, 21, '#f25a10', 'SMA (20,0)')
tag(4, 792, 111, 21, '#3ce03c', 'RSI (14,70,30,1)')
tag(4, 869, 80, 21, '#1f35ff', 'MOM (14)')

# panel resize handles
for yh in [707, 783, 859]:
    for dy in (-2, 0, 2):
        fig.add_artist(Line2D([1041 / W, 1061 / W], [1 - (yh + dy) / H] * 2,
                              transform=fig.transFigure, color='#7a7a7a', lw=0.9))

fig.savefig('out.png', dpi=100, facecolor='white')
